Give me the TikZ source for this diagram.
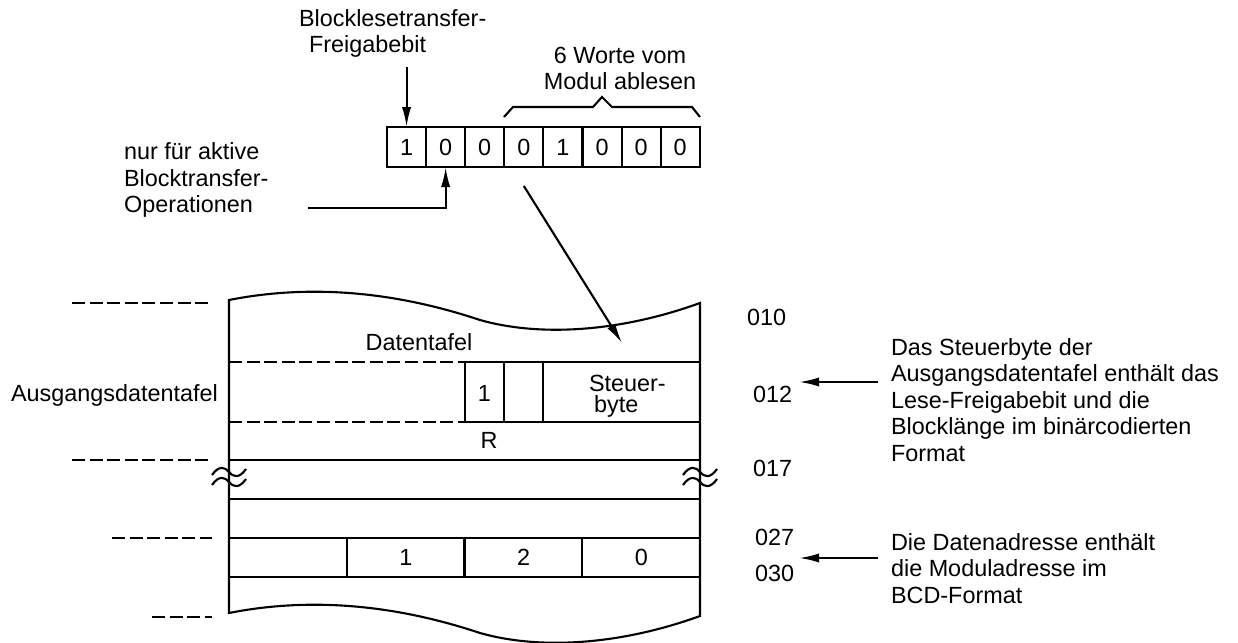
\documentclass[tikz,border=0pt]{standalone}
\usepackage{fontspec}
\setmainfont{Liberation Sans}
\usetikzlibrary{arrows.meta}

\begin{document}
\begin{tikzpicture}
		[x=0.5pt,y=-0.5pt, line width=1.05pt, font=\fontsize{11.7}{13.25}\selectfont,
		bit/.style={draw, minimum width=19.55pt, minimum height=20pt, inner sep=0, outer sep=0},
		txt/.style={inner sep=0, align=left, anchor=west},
		arr/.style={-{Latex[length=10pt,width=4.6pt]}},
		dsh/.style={dash pattern=on 6.5pt off 2.3pt}]
		\useasboundingbox (0,0) rectangle (1238,643);
		% control byte
		\foreach \b [count=\i] in {1,0,0,0,1,0,0,0}
			\node[bit] (b\i) at (367.45+39.1*\i,147) {\b};
		\draw (504,117) -- (513,107) -- (593,107) -- (602,97) -- (612,107) -- (692,107) -- (700,117);
		\node[txt] (blk) at (298,33.5) {Blocklesetransfer-\\\hspace{5pt}Freigabebit};
		\node[align=center, inner sep=0] (words) at (620,68.5) {6 Worte vom\\Modul ablesen};
		\node[txt] (nur) at (123,180) {nur für aktive\\Blocktransfer-\\Operationen};
		\coordinate (n0) at (308,208);
		\coordinate (dtip) at (622,343);
		\draw[arr] ([yshift=30pt]b1.north) -- (b1.north);
		\draw[arr] (n0) -| (b2.south);
		\draw[arr] ([yshift=-9.5pt]b4.south) -- (dtip);
		% data table
		\draw (229,300) .. controls (330,280) and (420,300) .. (480,320) .. controls (540,337) and (620,332) .. (700,303)
			-- (700,616) .. controls (620,645) and (540,650) .. (480,633) .. controls (420,613) and (330,593) .. (229,613) -- cycle;
		\draw[dsh] (229,362) -- (465,362);
		\draw[dsh] (229,422) -- (465,422);
		\draw (465,362) -- (700,362);
		\draw (465,422) -- (700,422);
		\foreach \x in {465,504,543}
			\draw (\x,362) -- (\x,422);
		\foreach \y in {460,499,538,577}
			\draw (229,\y) -- (700,\y);
		\foreach \x in {346.75,464.5,582.25}
			\draw (\x,538) -- (\x,577);
		\foreach \x in {229,700}
		{
			\foreach \y in {472,482}
			{
				\draw (\x-17,\y+3) .. controls (\x-10,\y-7) and (\x-4,\y-5) .. (\x,\y)
					.. controls (\x+4,\y+5) and (\x+10,\y+7) .. (\x+17,\y-3);
			}
		}
		\draw[dsh] (72,303) -- (212,303);
		\draw[dsh] (72,460) -- (212,460);
		\draw[dsh] (112,538) -- (212,538);
		\draw[dsh] (152,617) -- (212,617);
		\node (dtf) at (419,342) {Datentafel};
		\node (r1) at (484.5,393) {1};
		\node[txt, font=\fontsize{11.7}{10.5}\selectfont] (stb) at (588,396) {Steuer-\\\hspace{2.5pt}byte};
		\node (rr) at (489,440) {R};
		\foreach \v [count=\i] in {1,2,0}
			\node (a\i) at (288.25+117.75*\i,557.5) {\v};
		\node[txt] (ausg) at (10,395) {Ausgangsdatentafel};
		% addresses
		\node[txt] (l010) at (746,317) {010};
		\node[txt] (l012) at (752,394) {012};
		\node[txt] (l017) at (752,468) {017};
		\node[txt] (l027) at (754,537) {027};
		\node[txt] (l030) at (754,573) {030};
		\node[txt] (note1) at (890,400) {Das Steuerbyte der\\Ausgangsdatentafel enthält das\\Lese-Freigabebit und die\\Blocklänge im binärcodierten\\Format};
		\node[txt] (note2) at (890,568.5) {Die Datenadresse enthält\\die Moduladresse im\\BCD-Format};
		\coordinate (n1) at (878,382);
		\coordinate (n2) at (878,558);
		\draw[arr] (n1) -- ([xshift=3pt]l012.east |- n1);
		\draw[arr] (n2) -- ([xshift=2pt]l030.east |- n2);
	\end{tikzpicture}
\end{document}
